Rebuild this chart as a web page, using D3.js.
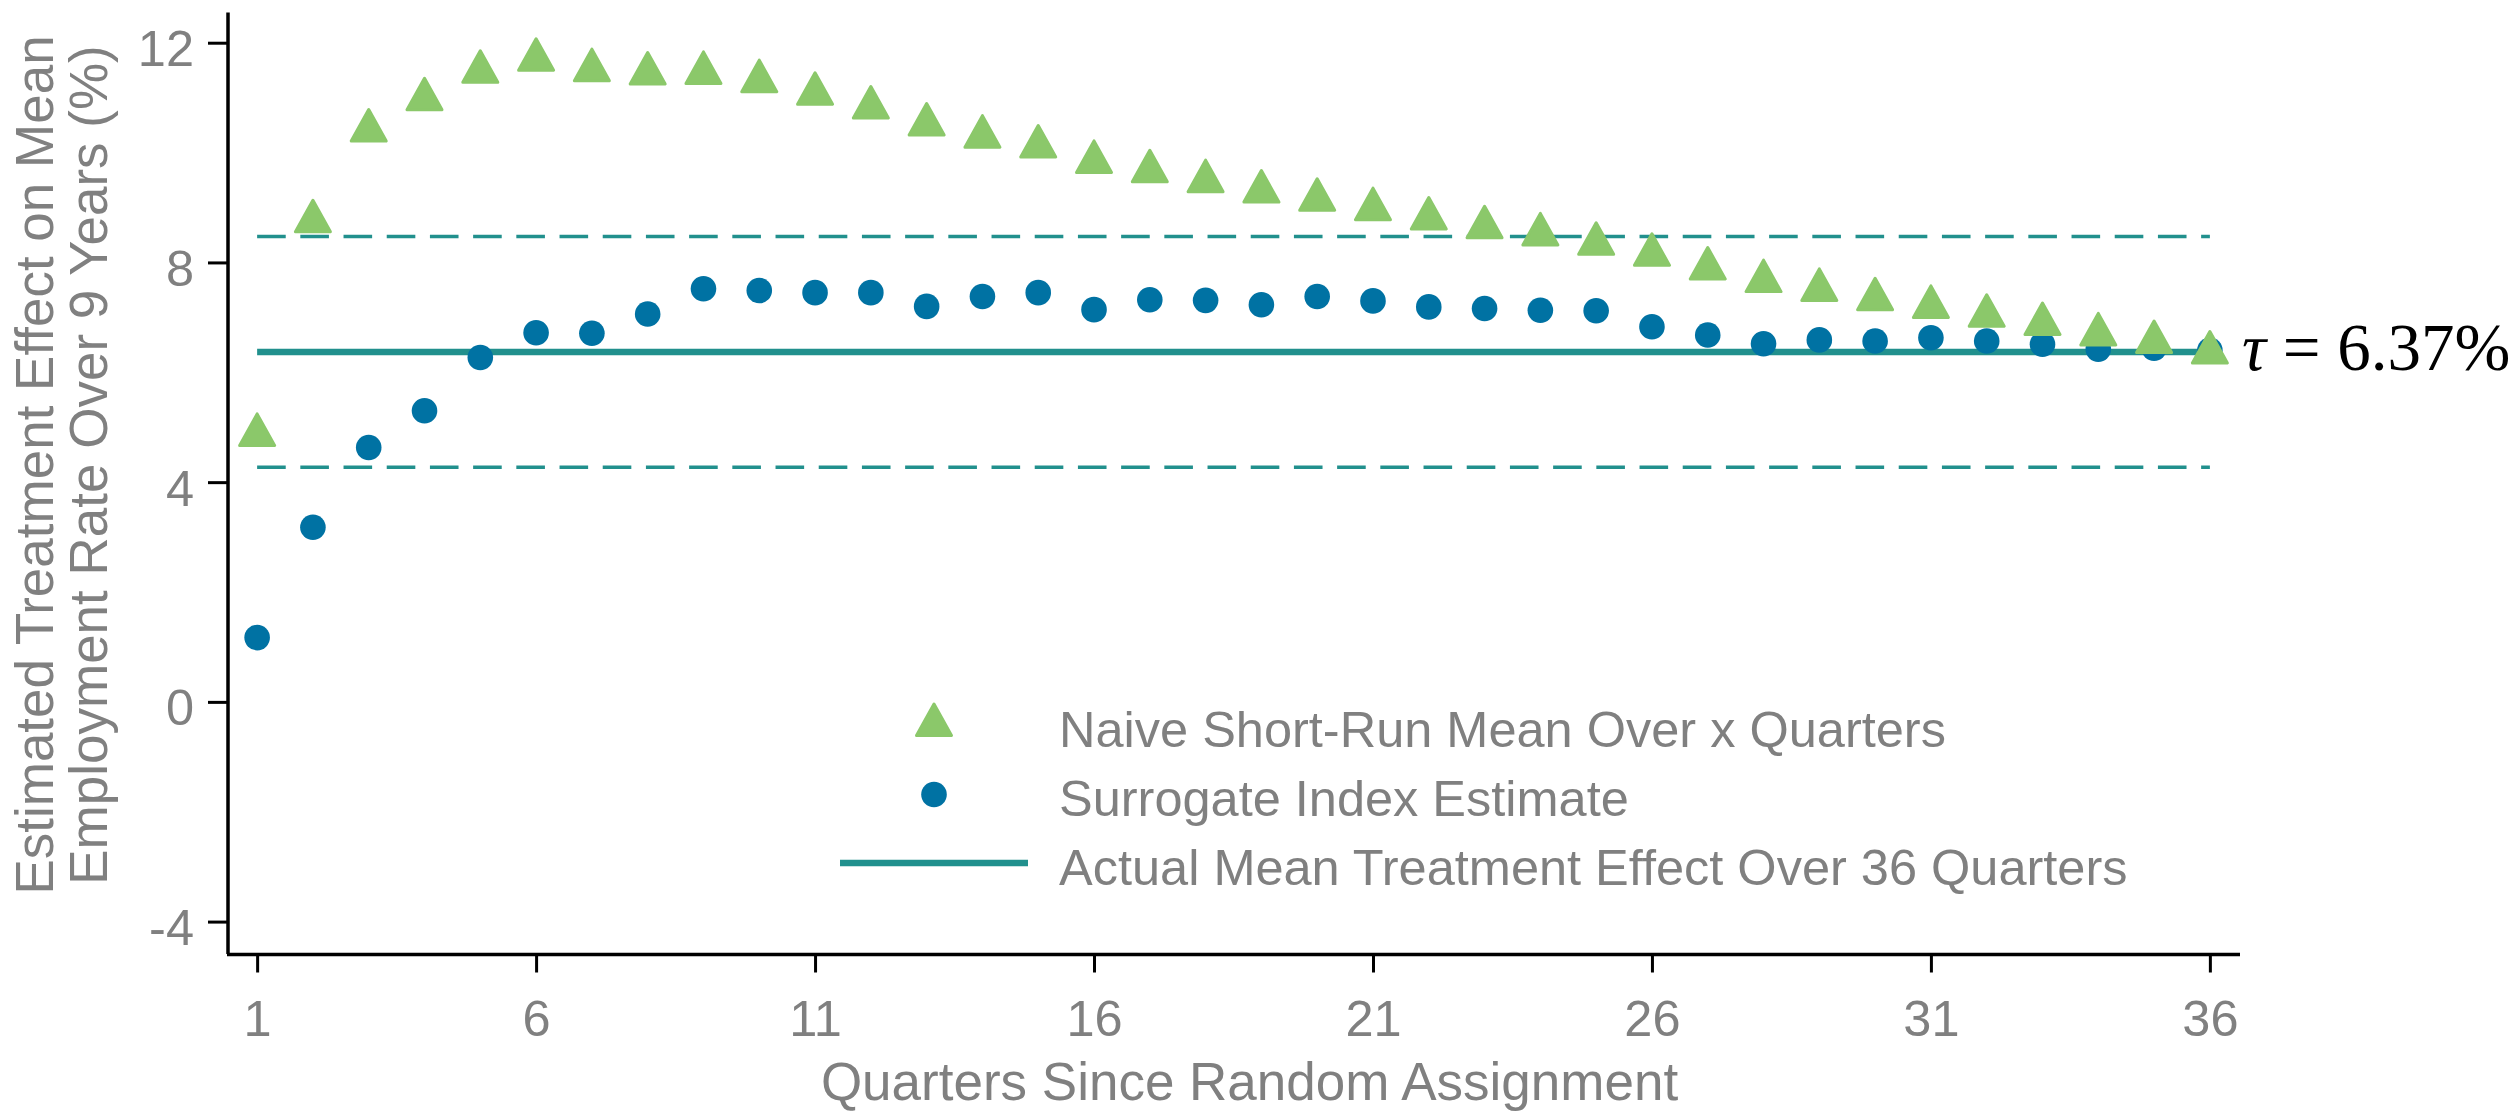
<!DOCTYPE html>
<html>
<head>
<meta charset="utf-8">
<script src="https://cdn.jsdelivr.net/npm/d3@7/dist/d3.min.js"></script>
<style>
  html, body { margin: 0; padding: 0; background: #ffffff; }
  svg { display: block; }
</style>
</head>
<body>
<svg id="chart" width="2517" height="1112"></svg>
<script>
// ---------------- data ----------------
const quarters = d3.range(1, 37);
const naiveMean = [4.86, 8.75, 10.40, 10.97, 11.47, 11.69, 11.50, 11.44, 11.45, 11.30, 11.07, 10.82,
                   10.51, 10.29, 10.11, 9.83, 9.66, 9.48, 9.29, 9.14, 8.97, 8.80, 8.64, 8.51,
                   8.34, 8.14, 7.89, 7.66, 7.50, 7.33, 7.19, 7.03, 6.88, 6.69, 6.55, 6.36];
const surrogate = [1.17, 3.18, 4.63, 5.30, 6.27, 6.72, 6.71, 7.06, 7.52, 7.49, 7.45, 7.45,
                   7.20, 7.38, 7.45, 7.14, 7.32, 7.31, 7.23, 7.38, 7.30, 7.19, 7.16, 7.13,
                   7.12, 6.83, 6.68, 6.52, 6.59, 6.57, 6.63, 6.57, 6.51, 6.42, 6.44, 6.40];
const tau = 6.37;
const ciLower = 4.27;
const ciUpper = 8.47;
const xTicks = [1, 6, 11, 16, 21, 26, 31, 36];
const yTicks = [-4, 0, 4, 8, 12];
const legendLabels = ["Naive Short-Run Mean Over x Quarters",
                      "Surrogate Index Estimate",
                      "Actual Mean Treatment Effect Over 36 Quarters"];
const xLabel = "Quarters Since Random Assignment";
const yLabelLines = ["Estimated Treatment Effect on Mean", "Employment Rate Over 9 Years (%)"];

// ---------------- style ----------------
const GREEN = "#8bc86a", BLUE = "#0072a3", TEAL = "#21908d", GRAY = "#808080";
const SANS = "'Liberation Sans', Arial, Helvetica, sans-serif";
const SERIF = "'Liberation Serif', 'Times New Roman', serif";

const svg = d3.select("#chart");
const x = d3.scaleLinear().domain([0.46, 36.54]).range([227, 2240]);
const y = d3.scaleLinear().domain([-4.59, 12.55]).range([954, 12.5]);

// triangle path centred on centroid
const triPath = "M0,-21L17.5,10.5L-17.5,10.5Z";

// ---------------- reference lines ----------------
const lineG = svg.append("g");
[ciUpper, ciLower].forEach(v => {
  lineG.append("line")
    .attr("x1", x(1)).attr("x2", x(36))
    .attr("y1", y(v)).attr("y2", y(v))
    .attr("stroke", TEAL).attr("stroke-width", 3.5)
    .attr("stroke-dasharray", "28.6,14.6");
});
lineG.append("line")
  .attr("x1", x(1)).attr("x2", x(36))
  .attr("y1", y(tau)).attr("y2", y(tau))
  .attr("stroke", TEAL).attr("stroke-width", 6.5);

// ---------------- points ----------------
svg.append("g").selectAll("circle")
  .data(quarters)
  .join("circle")
  .attr("cx", (d, i) => x(d))
  .attr("cy", (d, i) => y(surrogate[i]))
  .attr("r", 12.8)
  .attr("fill", BLUE);

svg.append("g").selectAll("path")
  .data(quarters)
  .join("path")
  .attr("d", triPath)
  .attr("transform", (d, i) => `translate(${x(d)},${y(naiveMean[i])})`)
  .attr("fill", GREEN)
  .attr("stroke", GREEN)
  .attr("stroke-width", 3)
  .attr("stroke-linejoin", "round");

// ---------------- axes ----------------
const yAxis = svg.append("g")
  .attr("transform", "translate(228,0)")
  .call(d3.axisLeft(y).tickValues(yTicks).tickFormat(d => String(d))
        .tickSize(20).tickSizeOuter(0).tickPadding(14));
const xAxis = svg.append("g")
  .attr("transform", "translate(0,954.5)")
  .call(d3.axisBottom(x).tickValues(xTicks).tickFormat(d => String(d))
        .tickSize(18).tickSizeOuter(0).tickPadding(28));

[yAxis, xAxis].forEach(a => {
  a.select(".domain").attr("stroke", "#000").attr("stroke-width", 3.5);
  a.selectAll(".tick line").attr("stroke", "#000").attr("stroke-width", 3);
  a.selectAll(".tick text")
    .attr("fill", GRAY)
    .style("font-family", SANS)
    .style("font-size", "50.5px");
});
yAxis.selectAll(".tick text").attr("dy", 23);
// extend axis lines to meet at the corner
xAxis.select(".domain").attr("d", `M${227},0H${2240}`);
yAxis.select(".domain").attr("d", `M0,${954}V${12.5}`);

// ---------------- axis labels ----------------
svg.append("text")
  .attr("x", 1249.5).attr("y", 1100)
  .attr("text-anchor", "middle")
  .attr("fill", GRAY)
  .style("font-family", SANS).style("font-size", "53px")
  .text(xLabel);

svg.append("g").selectAll("text")
  .data(yLabelLines)
  .join("text")
  .attr("transform", (d, i) => `translate(${53 + i * 53.5},465) rotate(-90)`)
  .attr("text-anchor", "middle")
  .attr("fill", GRAY)
  .style("font-family", SANS).style("font-size", "53px")
  .text(d => d);

// ---------------- tau annotation ----------------
const tauText = svg.append("text")
  .attr("x", 2242).attr("y", y(tau) + 18)
  .attr("fill", "#000")
  .style("font-family", SERIF).style("font-size", "67px");
tauText.append("tspan").style("font-style", "italic").text("τ");
tauText.append("tspan").text(" = " + tau.toFixed(2) + "%");

// ---------------- legend ----------------
const leg = svg.append("g");
const rowBase = [746.7, 815.5, 885];
const legX = 934;
leg.append("path")
  .attr("d", triPath)
  .attr("transform", `translate(${legX},${725})`)
  .attr("fill", GREEN).attr("stroke", GREEN).attr("stroke-width", 3)
  .attr("stroke-linejoin", "round");
leg.append("circle")
  .attr("cx", legX).attr("cy", 794.5).attr("r", 12.8).attr("fill", BLUE);
leg.append("line")
  .attr("x1", 840).attr("x2", 1028).attr("y1", 863).attr("y2", 863)
  .attr("stroke", TEAL).attr("stroke-width", 6.5);
leg.selectAll("text")
  .data(legendLabels)
  .join("text")
  .attr("x", 1059)
  .attr("y", (d, i) => rowBase[i])
  .attr("fill", GRAY)
  .style("font-family", SANS).style("font-size", "50.5px")
  .text(d => d);
</script>
</body>
</html>
